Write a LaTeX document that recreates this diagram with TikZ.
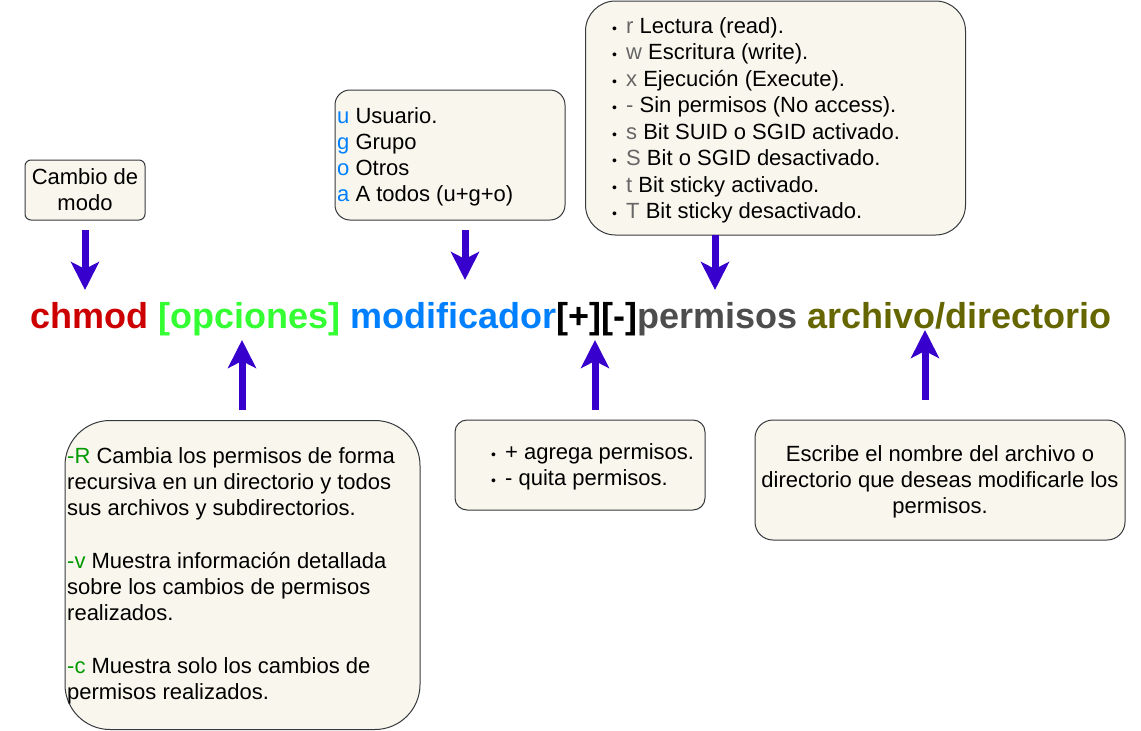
\documentclass[tikz,border=0pt]{standalone}
\usepackage{fontspec}
\setmainfont{Liberation Sans}
\usetikzlibrary{arrows.meta}
\definecolor{boxfill}{HTML}{F9F7ED}
\definecolor{boxdraw}{HTML}{36393D}
\definecolor{arrowc}{HTML}{3700CC}
\definecolor{cred}{HTML}{CC0000}
\definecolor{cgreen}{HTML}{33FF33}
\definecolor{cblue}{HTML}{007FFF}
\definecolor{cgray}{HTML}{4D4D4D}
\definecolor{colive}{HTML}{666600}
\definecolor{optgreen}{HTML}{009900}
\definecolor{lettergray}{HTML}{666666}
\newcommand{\bul}{\makebox[14pt][l]{\fontsize{14}{14}\selectfont\textbullet}}
\begin{document}
\begin{tikzpicture}[x=1pt,y=-1pt,
  box/.style={draw=boxdraw, fill=boxfill, line width=1pt, rounded corners=#1, inner sep=0pt},
  txt/.style={inner sep=0pt, font=\fontsize{22}{26}\selectfont},
  bigarrow/.style={draw=arrowc, line width=7pt, -{Stealth[length=28pt,width=28pt,inset=7pt,fill=arrowc]}}]
\useasboundingbox (0,0) rectangle (1141,731);
% boxes
\node[box=6pt, minimum width=120pt, minimum height=60pt] (cambio) at (85,190) {};
\node[box=15pt, minimum width=230pt, minimum height=130pt] (ugoa) at (450,155) {};
\node[box=30pt, minimum width=380pt, minimum height=234pt] (perm) at (775.5,118) {};
\node[box=45pt, minimum width=355pt, minimum height=309pt] (opc) at (242.5,575) {};
\node[box=12pt, minimum width=250pt, minimum height=90pt] (pm) at (580,465) {};
\node[box=18pt, minimum width=370pt, minimum height=120pt] (arch) at (940,480) {};
% texts (base anchor = baseline of the last line)
\node[txt, align=center, anchor=base] (tcambio) at (85,210.5) {Cambio de\\modo};
\node[txt, align=left, anchor=base west] (tugoa) at (337,201.5)
  {{\color{cblue}u} Usuario.\\{\color{cblue}g} Grupo\\{\color{cblue}o} Otros\\{\color{cblue}a} A todos (u+g+o)};
\node[txt, align=left, anchor=base west, font=\fontsize{22}{26.5}\selectfont] (tperm) at (612,218.5)
  {\bul{\color{lettergray}r} Lectura (read).\\
   \bul{\color{lettergray}w} Escritura (write).\\
   \bul{\color{lettergray}x} Ejecución (Execute).\\
   \bul{\color{lettergray}-} Sin permisos (No access).\\
   \bul{\color{lettergray}s} Bit SUID o SGID activado.\\
   \bul{\color{lettergray}S} Bit o SGID desactivado.\\
   \bul{\color{lettergray}t} Bit sticky activado.\\
   \bul{\color{lettergray}T} Bit sticky desactivado.};
\node[txt, align=left, anchor=base west, font=\fontsize{22}{26.3}\selectfont] (topc) at (67,699.7)
  {{\color{optgreen}-R} Cambia los permisos de forma\\recursiva en un directorio y todos\\sus archivos y subdirectorios.\\[26.3pt]{\color{optgreen}-v} Muestra información detallada\\sobre los cambios de permisos\\realizados.\\[26.3pt]{\color{optgreen}-c} Muestra solo los cambios de\\permisos realizados.};
\node[txt, align=left, anchor=base west] (tpm) at (491,485)
  {\bul+ agrega permisos.\\\bul- quita permisos.};
\node[txt, align=center, anchor=base] (tarch) at (940,513.5)
  {Escribe el nombre del archivo o\\directorio que deseas modificarle los\\permisos.};
% main command line
\node[inner sep=0pt, anchor=base west, font=\bfseries\fontsize{36}{43}\selectfont] (main) at (30,328)
  {{\color{cred}chmod} {\color{cgreen}[opciones]} {\color{cblue}modificador}[+][-]{\color{cgray}permisos} {\color{colive}archivo/directorio}};
% arrow end points
\coordinate (a1s) at (85,230);  \coordinate (a1e) at (85,290);
\coordinate (a2s) at (465,230); \coordinate (a2e) at (465,280);
\coordinate (a3s) at (715,235); \coordinate (a3e) at (715,290);
\coordinate (a4s) at (242,410); \coordinate (a4e) at (242,340);
\coordinate (a5s) at (595,410); \coordinate (a5e) at (595,340);
\coordinate (a6s) at (925,400); \coordinate (a6e) at (925,330);
\draw[bigarrow] (a1s) -- (a1e);
\draw[bigarrow] (a2s) -- (a2e);
\draw[bigarrow] (a3s) -- (a3e);
\draw[bigarrow] (a4s) -- (a4e);
\draw[bigarrow] (a5s) -- (a5e);
\draw[bigarrow] (a6s) -- (a6e);
\end{tikzpicture}
\end{document}
